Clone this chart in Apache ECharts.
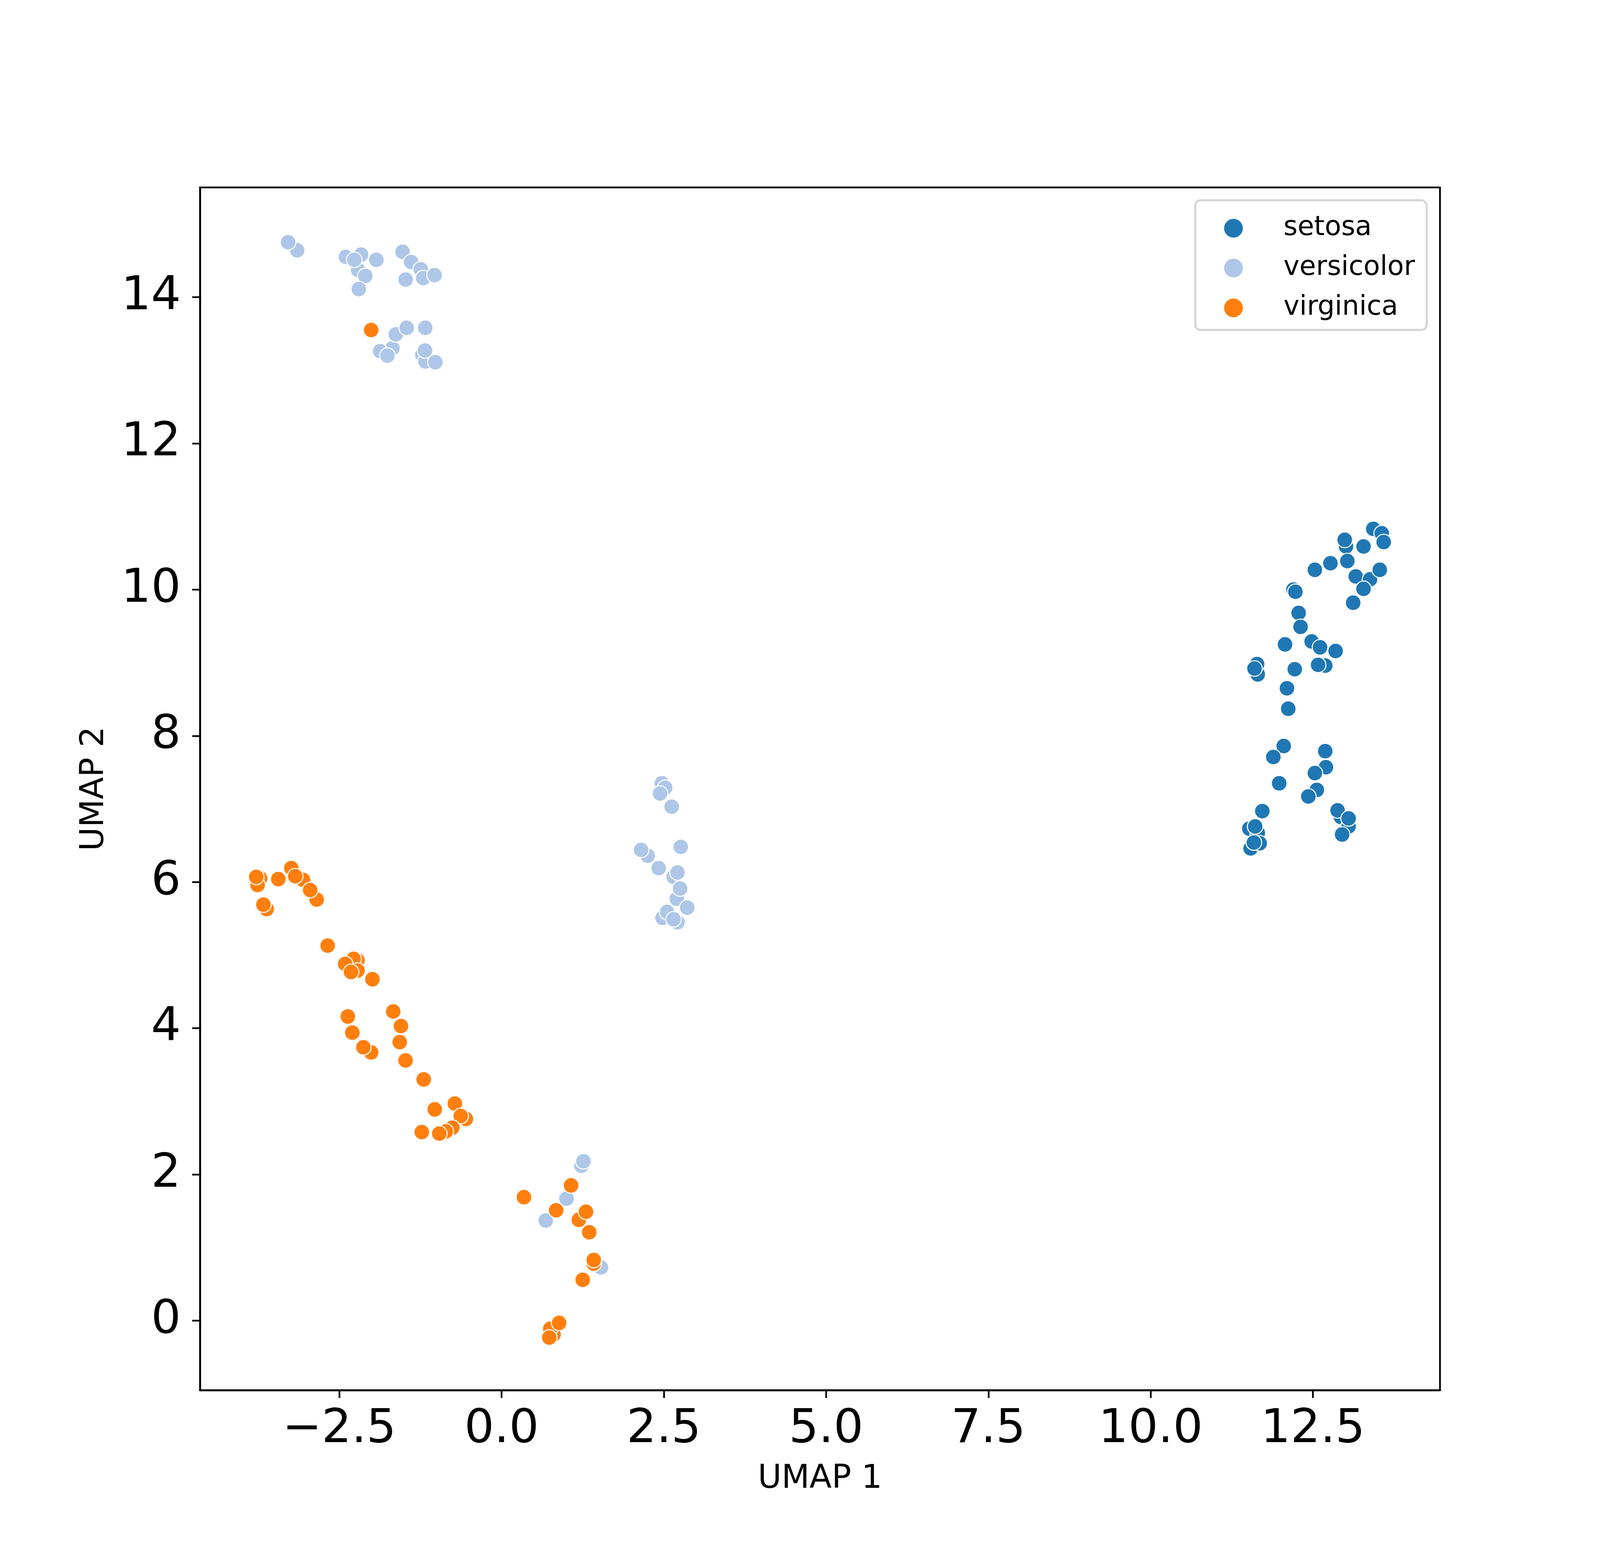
<!DOCTYPE html>
<html>
<head>
<meta charset="utf-8">
<script src="https://cdn.jsdelivr.net/npm/echarts@6/dist/echarts.min.js"></script>
<style>
html,body{margin:0;padding:0;background:#fff;overflow:hidden;}
#chart{width:100vw;height:100vh;}
</style>
</head>
<body>
<div id="chart"></div>
<script>
// ---- data ----
const speciesNames = ['setosa', 'versicolor', 'virginica'];

const setosaX = [13.43, 13.56, 13.59, 13.01, 12.99, 13.28, 12.77, 12.53, 13.03, 13.16, 13.38, 13.53, 13.28, 13.12,
  12.20, 12.23, 12.28, 12.31, 12.07, 12.48, 12.61, 12.85, 12.69, 12.58, 11.64, 11.65, 11.60, 12.22, 12.10, 12.12,
  12.05, 11.89, 11.98, 12.69, 12.70, 12.53, 12.56, 12.43, 11.72, 11.52, 11.65, 11.61, 11.54, 11.68, 11.59,
  12.93, 12.88, 13.05, 13.05, 12.95];
const setosaY = [10.83, 10.77, 10.65, 10.59, 10.68, 10.59, 10.36, 10.27, 10.39, 10.18, 10.14, 10.27, 10.01, 9.82,
  10.00, 9.97, 9.68, 9.49, 9.25, 9.29, 9.21, 9.16, 8.96, 8.97, 8.98, 8.84, 8.92, 8.91, 8.65, 8.37,
  7.86, 7.71, 7.35, 7.79, 7.57, 7.49, 7.26, 7.17, 6.97, 6.73, 6.67, 6.76, 6.46, 6.53, 6.54,
  6.89, 6.98, 6.76, 6.87, 6.65];

const versicolorX = [-3.15, -3.29, -2.40, -2.165, -2.21, -2.27, -2.10, -2.20, -1.93,
  -1.526, -1.394, -1.246, -1.208, -1.479, -1.032,
  -1.683, -1.872, -1.759, -1.630, -1.463, -1.177, -1.221, -1.174, -1.180, -1.020,
  2.47, 2.52, 2.44, 2.62, 2.25, 2.15, 2.42, 2.76, 2.65, 2.71, 2.70, 2.75, 2.86, 2.48, 2.55, 2.71, 2.65,
  0.68, 1.00, 1.23, 1.26, 1.53];
const versicolorY = [14.64, 14.75, 14.55, 14.58, 14.37, 14.51, 14.29, 14.11, 14.51,
  14.62, 14.48, 14.38, 14.26, 14.24, 14.30,
  13.30, 13.26, 13.20, 13.49, 13.58, 13.58, 13.21, 13.12, 13.27, 13.11,
  7.35, 7.29, 7.21, 7.03, 6.36, 6.44, 6.19, 6.48, 6.07, 6.13, 5.77, 5.91, 5.65, 5.51, 5.59, 5.45, 5.49,
  1.37, 1.67, 2.12, 2.18, 0.73];

const virginicaX = [-2.01,
  -3.72, -3.76, -3.78, -3.44, -3.24, -3.06, -3.18, -2.85, -2.95, -3.62, -3.67, -2.68,
  -2.22, -2.28, -2.41, -2.22, -2.32, -2.37, -2.30,
  -1.99, -1.67, -1.55, -1.57, -2.01, -2.13, -1.48, -1.20, -1.03, -0.72, -0.55, -0.63, -0.76, -0.86, -0.96, -1.23,
  0.344, 0.84, 1.07, 1.19, 1.30, 1.35, 1.42, 1.42, 1.25, 0.80, 0.75, 0.886, 0.735];
const virginicaY = [13.55,
  6.05, 5.96, 6.07, 6.04, 6.19, 6.03, 6.08, 5.76, 5.89, 5.63, 5.69, 5.13,
  4.93, 4.95, 4.88, 4.79, 4.77, 4.16, 3.94,
  4.67, 4.23, 4.03, 3.81, 3.67, 3.74, 3.56, 3.30, 2.89, 2.97, 2.76, 2.80, 2.64, 2.59, 2.56, 2.58,
  1.69, 1.51, 1.85, 1.38, 1.49, 1.21, 0.78, 0.83, 0.56, -0.19, -0.11, -0.03, -0.23];

const xTickValues = [-2.5, 0, 2.5, 5, 7.5, 10, 12.5];
const yTickValues = [0, 2, 4, 6, 8, 10, 12, 14];
const xAxisTitle = 'UMAP 1';
const yAxisTitle = 'UMAP 2';
// ---------------------------------------

const colors = ['#1f77b4', '#aec7e8', '#ff7f0e'];
const xs = [setosaX, versicolorX, virginicaX];
const ys = [setosaY, versicolorY, virginicaY];
function zip(a, b) { return a.map((v, i) => [v, b[i]]); }

const el = document.getElementById('chart');
const W = el.clientWidth || window.innerWidth;
const H = el.clientHeight || window.innerHeight;
const sx = W / 6000, sy = H / 4000;
const f = sy; // text / marker scale (height-based)

const FONT = 'DejaVu Sans';
const chart = echarts.init(el, null, { renderer: 'canvas', width: W, height: H });

const series = speciesNames.map((name, k) => ({
  name: name,
  type: 'scatter',
  data: zip(xs[k], ys[k]),
  symbol: 'circle',
  symbolSize: 40 * f,
  itemStyle: { color: colors[k], borderColor: '#ffffff', borderWidth: 2.7 * f, opacity: 1 },
  emphasis: { disabled: true },
  z: 2
}));

chart.setOption({
  animation: false,
  backgroundColor: '#ffffff',
  grid: { left: 750 * sx, right: 600 * sx, top: 480 * sy, bottom: 440 * sy, show: true,
    borderColor: '#000', borderWidth: 4.5 * f, backgroundColor: 'transparent' },
  xAxis: {
    type: 'value', min: -4.647, max: 14.458,
    name: xAxisTitle, nameLocation: 'middle', nameGap: 187 * f,
    nameTextStyle: { fontFamily: FONT, fontSize: 83 * f, color: '#000' },
    axisLine: { show: true, onZero: false, lineStyle: { color: '#000', width: 4.5 * f } },
    axisTick: { show: true, length: 20 * f, inside: false, customValues: xTickValues, lineStyle: { color: '#000', width: 4.4 * f } },
    axisLabel: { show: true, margin: 42 * f, customValues: xTickValues, fontFamily: FONT, fontSize: 120 * f, color: '#000',
      formatter: v => (v < 0 ? '\u2212' : '') + Math.abs(v).toFixed(1) },
    splitLine: { show: false }
  },
  yAxis: {
    type: 'value', min: -0.95, max: 15.50,
    name: yAxisTitle, nameLocation: 'middle', nameGap: 228 * f, nameRotate: 90,
    nameTextStyle: { fontFamily: FONT, fontSize: 83 * f, color: '#000' },
    axisLine: { show: true, onZero: false, lineStyle: { color: '#000', width: 4.5 * f } },
    axisTick: { show: true, length: 20 * f, inside: false, customValues: yTickValues, lineStyle: { color: '#000', width: 4.4 * f } },
    axisLabel: { show: true, margin: 49 * f, customValues: yTickValues, fontFamily: FONT, fontSize: 120 * f, color: '#000',
      formatter: v => (v < 0 ? '\u2212' : '') + Math.abs(v).toFixed(0) },
    splitLine: { show: false }
  },
  legend: {
    show: true, orient: 'vertical', right: 600 * sx + 34 * f, top: 513 * sy,
    padding: [37 * f, 30 * f, 22 * f, 74 * f],
    itemWidth: 48 * f, itemHeight: 48 * f, itemGap: 33 * f,
    icon: 'circle',
    itemStyle: { borderWidth: 0 },
    backgroundColor: 'rgba(255,255,255,0.8)',
    borderColor: '#d6d6d6', borderWidth: 5.5 * f, borderRadius: 14 * f,
    textStyle: { fontFamily: FONT, fontSize: 69 * f, lineHeight: 69 * f, color: '#000', padding: [0, 0, 0, 99 * f] },
    data: speciesNames
  },
  tooltip: { show: false },
  series: series
});
</script>
</body>
</html>
